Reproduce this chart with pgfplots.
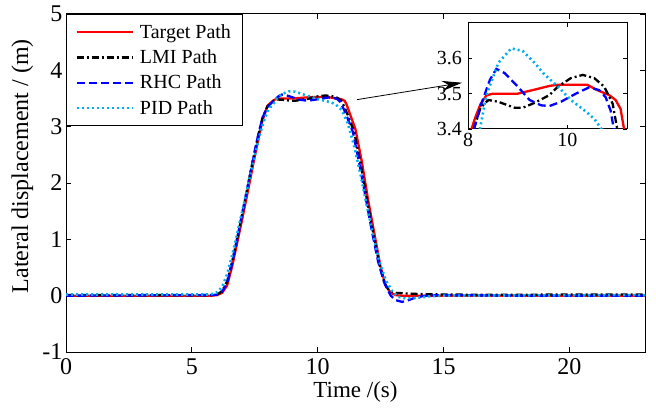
\documentclass[border=0pt]{standalone}
\usepackage{fontspec}
\setmainfont{Liberation Serif}
\usepackage{pgfplots}
\pgfplotsset{compat=1.18}
\usepackage{pgfplotstable}
\usetikzlibrary{arrows.meta}

\pgfplotstableread{
t v
0 0
5.8 0
6.0 0.01
6.2 0.05
6.4 0.18
6.6 0.52
6.8 0.94
7.0 1.36
7.2 1.80
7.4 2.25
7.6 2.70
7.8 3.10
8.0 3.37
8.14 3.43
8.25 3.47
8.37 3.495
8.5 3.50
9.0 3.50
9.3 3.51
9.64 3.522
9.8 3.525
10.4 3.525
10.6 3.51
10.84 3.496
10.97 3.482
11.07 3.457
11.14 3.40
11.3 3.20
11.5 2.95
11.75 2.38
12.0 1.70
12.25 1.10
12.5 0.50
12.7 0.18
12.9 0.05
13.1 0.01
13.3 0
23 0
}\target

\pgfplotstableread{
t v
0 0.01
5.8 0.01
6.0 0.02
6.2 0.08
6.4 0.25
6.6 0.60
6.8 1.02
7.0 1.45
7.2 1.90
7.4 2.35
7.6 2.78
7.8 3.15
8.0 3.36
8.14 3.41
8.25 3.46
8.41 3.482
8.61 3.477
8.94 3.46
9.1 3.46
9.34 3.474
9.64 3.496
9.81 3.52
10.07 3.544
10.31 3.553
10.54 3.544
10.74 3.52
10.91 3.472
11.01 3.395
11.2 3.20
11.45 2.90
11.7 2.35
11.95 1.72
12.2 1.12
12.45 0.55
12.65 0.22
12.85 0.08
13.1 0.05
13.5 0.04
14 0.03
15 0.02
17 0.015
20 0.02
23 0.02
}\lmi

\pgfplotstableread{
t v
0 0
5.8 0.01
6.0 0.02
6.2 0.07
6.4 0.22
6.6 0.58
6.8 1.00
7.0 1.45
7.2 1.90
7.4 2.35
7.6 2.78
7.8 3.15
7.95 3.30
8.1 3.39
8.27 3.472
8.44 3.539
8.57 3.57
8.74 3.558
9.0 3.52
9.24 3.482
9.47 3.467
9.64 3.465
9.87 3.477
10.17 3.50
10.44 3.518
10.64 3.51
10.77 3.49
10.87 3.452
10.94 3.395
11.1 3.25
11.4 2.90
11.65 2.35
11.9 1.75
12.15 1.15
12.4 0.60
12.65 0.22
12.9 0.0
13.1 -0.08
13.35 -0.11
13.6 -0.08
13.9 -0.03
14.3 0.0
15 0.01
18 0
23 0
}\rhc

\pgfplotstableread{
t v
0 0.02
5.6 0.02
5.8 0.03
6.0 0.06
6.2 0.15
6.4 0.38
6.6 0.72
6.8 1.10
7.0 1.50
7.2 1.90
7.4 2.30
7.6 2.68
7.8 3.02
8.0 3.27
8.15 3.36
8.24 3.40
8.37 3.496
8.61 3.587
8.87 3.628
9.1 3.621
9.34 3.587
9.54 3.554
9.81 3.52
10.07 3.482
10.34 3.453
10.54 3.429
10.71 3.395
10.95 3.30
11.2 3.05
11.45 2.65
11.7 2.15
11.95 1.60
12.2 1.08
12.45 0.60
12.7 0.28
12.95 0.08
13.2 -0.02
13.5 -0.05
13.9 -0.04
14.5 -0.01
15 0
23 0.01
}\pid

\pgfplotsset{
  tgt/.style={red, line width=2.3bp},
  lmis/.style={black, line width=2.3bp, dash pattern=on 7bp off 3bp on 2bp off 3bp},
  rhcs/.style={blue, line width=2.3bp, dash pattern=on 8bp off 4bp},
  pids/.style={cyan, line width=2.6bp, dash pattern=on 2bp off 3bp},
  mat/.style={
    scale only axis,
    tick align=inside,
    major tick length=5bp,
    axis line style={line width=1bp},
    every tick/.style={black, line width=0.8bp},
    /pgf/number format/assume math mode=true,
  },
}

\begin{document}
\begin{tikzpicture}[x=1bp,y=1bp]
\path[use as bounding box] (0,0) rectangle (656,407);
\begin{axis}[mat,
  at={(66bp,55bp)}, anchor=south west,
  width=579bp, height=338bp,
  xmin=0, xmax=23, ymin=-1, ymax=5,
  xtick={0,5,10,15,20}, ytick={-1,0,1,2,3,4,5},
  tick label style={font=\fontsize{24bp}{28bp}\selectfont},
  xticklabel style={yshift=-3bp},
  xlabel={Time /(s)},
  ylabel={Lateral displacement / (m)},
  xlabel style={font=\fontsize{23bp}{28bp}\selectfont, at={(axis description cs:0.5,0)}, anchor=base, yshift=-45bp},
  ylabel style={font=\fontsize{24bp}{28bp}\selectfont, at={(axis description cs:-0.0656,0.55)}, anchor=base},
  legend style={at={(0,1)}, anchor=north west, draw=black, line width=0.8bp,
    font=\fontsize{20bp}{24bp}\selectfont, inner xsep=9bp, inner ysep=8bp,
    row sep=6bp, column sep=4bp, cells={anchor=west}},
  legend cell align=left,
  legend image code/.code={\draw[mark repeat=2,mark phase=2] plot coordinates {(0bp,0bp) (28bp,0bp) (56bp,0bp)};},
]
\addplot[tgt] table[x=t,y=v] {\target};
\addplot[lmis] table[x=t,y=v] {\lmi};
\addplot[rhcs] table[x=t,y=v] {\rhc};
\addplot[pids] table[x=t,y=v] {\pid};
\legend{Target Path, LMI Path, RHC Path, PID Path}
\draw[line width=0.8bp, -{Stealth[length=20bp,width=10bp]}] (axis cs:11.56,3.48) -- (axis cs:15.73,3.78);
\end{axis}
\begin{axis}[mat,
  at={(468bp,278bp)}, anchor=south west,
  width=159bp, height=106bp,
  xmin=8, xmax=11.2, ymin=3.4, ymax=3.7,
  xtick={8,10}, ytick={3.4,3.5,3.6},
  major tick length=4bp,
  tick label style={font=\fontsize{20bp}{24bp}\selectfont},
  yticklabel style={inner xsep=2bp, xshift=-4bp},
  xticklabel style={yshift=-1bp},
  axis background/.style={fill=white},
  /pgf/number format/.cd, fixed, precision=1, fixed zerofill=false,
]
\addplot[tgt] table[x=t,y=v] {\target};
\addplot[lmis] table[x=t,y=v] {\lmi};
\addplot[rhcs] table[x=t,y=v] {\rhc};
\addplot[pids] table[x=t,y=v] {\pid};
\end{axis}
\end{tikzpicture}
\end{document}
